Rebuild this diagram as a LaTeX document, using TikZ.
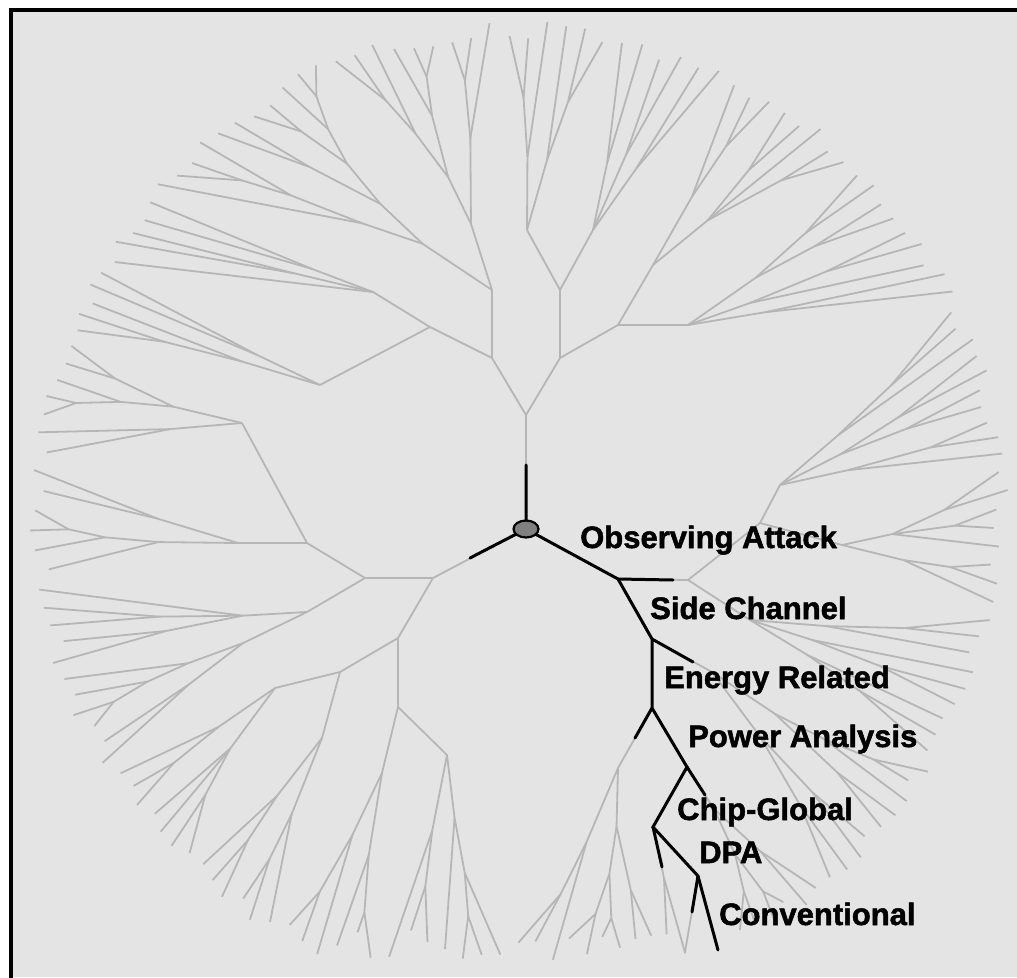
\documentclass[tikz,border=0pt]{standalone}
\usepackage{fontspec}
\setmainfont{Liberation Sans}
\newfontfamily\labfont{Liberation Sans}[BoldFeatures={FakeBold=1.6}]
\usetikzlibrary{calc,shapes.geometric}
\definecolor{treegray}{RGB}{182,182,182}
\definecolor{bggray}{RGB}{228,228,228}
\definecolor{rootgray}{RGB}{128,128,128}
\def\tgOx{526}\def\tgOy{529}
% point on the rim of the tree at a given angle, moved inward by #2
\newcommand\tgRim[2]{%
  \pgfmathsetmacro\tgAng{#1}%
  \pgfmathsetmacro\tgRad{490+18*sin(\tgAng)-8*cos(\tgAng)-(#2)}%
  \pgfmathsetmacro\tgtx{\tgOx+\tgRad*cos(\tgAng)}%
  \pgfmathsetmacro\tgty{\tgOy-\tgRad*sin(\tgAng)}%
  \pgfmathsetmacro\tgty{max(22,min(962-1.8*(#2),\tgty))}%
  \pgfmathsetmacro\tgtx{max(24,min(1008,\tgtx))}%
}
% grow a subtree from (#1,#2) over the angular wedge [#3,#4] with #5 leaves
\newcommand\tgGrow[5]{%
 \begingroup
 \edef\tggx{#1}\edef\tggy{#2}\edef\tggA{#3}\edef\tggB{#4}\edef\tggn{#5}%
 \ifnum\tggn<2
   \pgfmathsetmacro\tgjit{rnd*18}%
   \tgRim{(\tggA+\tggB)/2}{\tgjit}%
   \draw[gbr] (\tggx,\tggy) -- (\tgtx,\tgty);%
 \else
   \pgfmathsetmacro\tgper{(\tggB-\tggA)/\tggn}%
   \pgfmathtruncatemacro\tgk{ifthenelse(and(\tggn>3,rnd<0.3),3,2)}%
   \ifnum\tgk=2
     \pgfmathtruncatemacro\tgna{max(1,min(\tggn-1,round(\tggn*(0.3+0.4*rnd))))}%
     \pgfmathsetmacro\tgbm{\tggA+\tgna*\tgper}%
     \pgfmathtruncatemacro\tgnb{\tggn-\tgna}%
     \tgChild{\tggx}{\tggy}{\tggA}{\tgbm}{\tgna}%
     \tgChild{\tggx}{\tggy}{\tgbm}{\tggB}{\tgnb}%
   \else
     \pgfmathtruncatemacro\tgna{max(1,round(\tggn*(0.22+0.2*rnd)))}%
     \pgfmathtruncatemacro\tgnb{max(1,min(\tggn-\tgna-1,round((\tggn-\tgna)*(0.35+0.3*rnd))))}%
     \pgfmathtruncatemacro\tgnc{\tggn-\tgna-\tgnb}%
     \pgfmathsetmacro\tgbm{\tggA+\tgna*\tgper}%
     \pgfmathsetmacro\tgbn{\tgbm+\tgnb*\tgper}%
     \tgChild{\tggx}{\tggy}{\tggA}{\tgbm}{\tgna}%
     \tgChild{\tggx}{\tggy}{\tgbm}{\tgbn}{\tgnb}%
     \tgChild{\tggx}{\tggy}{\tgbn}{\tggB}{\tgnc}%
   \fi
 \fi
 \endgroup
}
\newcommand\tgChild[5]{%
 \begingroup
 \edef\tgcx{#1}\edef\tgcy{#2}\edef\tgcA{#3}\edef\tgcB{#4}\edef\tgcm{#5}%
 \ifnum\tgcm<2
   \tgGrow{\tgcx}{\tgcy}{\tgcA}{\tgcB}{1}%
 \else
   \tgRim{(\tgcA+\tgcB)/2}{0}%
   \pgfmathsetmacro\tgdx{\tgtx-\tgcx}%
   \pgfmathsetmacro\tgdy{\tgty-\tgcy}%
   \pgfmathsetmacro\tgdd{max(1,100*veclen(\tgdx/100,\tgdy/100))}%
   \pgfmathsetmacro\tghh{ln(\tgcm)/ln(2.2)}%
   \pgfmathsetmacro\tgL{min(75,\tgdd/(\tghh+1.2))*(0.85+0.3*rnd)}%
   \pgfmathsetmacro\tgf{\tgL/\tgdd}%
   \pgfmathsetmacro\tgqx{\tgcx+\tgf*\tgdx}%
   \pgfmathsetmacro\tgqy{\tgcy+\tgf*\tgdy}%
   \draw[gbr] (\tgcx,\tgcy) -- (\tgqx,\tgqy);%
   \tgGrow{\tgqx}{\tgqy}{\tgcA}{\tgcB}{\tgcm}%
 \fi
 \endgroup
}
\begin{document}
\begin{tikzpicture}[x=1pt,y=-1pt,
  gbr/.style={draw=treegray,line width=1.8pt},
  bbr/.style={draw=black,line width=3pt,line cap=round},
  lab/.style={font=\labfont\fontsize{31}{31}\selectfont\bfseries,inner sep=0pt,anchor=base west}]
\pgfmathsetseed{12}
\useasboundingbox (0,0) rectangle (1017,977);
\fill[white] (0,0) rectangle (1017,977);
\fill[bggray] (11,10) rectangle (1017,977);
\draw[black,line width=4pt] (11,990) -- (11,10) -- (1030,10);
% ---------- skeleton coordinates ----------
\coordinate (O) at (526,529);
% upper subtree
\coordinate (U) at (526,415);
\coordinate (UL) at (492,358);  \coordinate (UR) at (560,358);
\coordinate (UL1) at (492,290); \coordinate (UL2) at (430,327);
\coordinate (UR1) at (560,290); \coordinate (UR2) at (618,325);
\coordinate (UL2a) at (373,292); \coordinate (UL2b) at (320,385);
\coordinate (UR1a) at (527,230); \coordinate (UR1b) at (593,230);
\coordinate (UR2a) at (653,265); \coordinate (UR2b) at (688,325);
% lower-left subtree
\coordinate (L1) at (433,578);
\coordinate (L11) at (365,578); \coordinate (L12) at (398,638);
\coordinate (L11a) at (307,543); \coordinate (L11b) at (307,612);
\coordinate (L12a) at (340,672); \coordinate (L12b) at (398,707);
\coordinate (L11a1) at (242,423); \coordinate (L11a2) at (238,543);
\coordinate (L12a1) at (275,688); \coordinate (L12a2) at (322,738);
\coordinate (L12b1) at (382,773); \coordinate (L12b2) at (447,755);
% lower-right subtree (highlighted path)
\coordinate (A) at (618,579);  \coordinate (A2) at (688,580);
\coordinate (B) at (652,639);  \coordinate (B2) at (712,672);
\coordinate (C) at (652,708);  \coordinate (C2) at (618,768);
\coordinate (D) at (687,767);  \coordinate (D2) at (714,809);
\coordinate (E) at (653,827);  \coordinate (E2) at (664,878);
\coordinate (F) at (698,876);  \coordinate (F2) at (685,952);
\coordinate (G) at (718,950);
\coordinate (N1) at (760,523); \coordinate (N1a) at (780,485);
\coordinate (N1b) at (842,545); \coordinate (A2b) at (750,620);
% ---------- gray skeleton ----------
\draw[gbr] (O)--(U) (U)--(UL) (U)--(UR) (UL)--(UL1) (UL)--(UL2)
  (UR)--(UR1) (UR)--(UR2) (UL2)--(UL2a) (UL2)--(UL2b)
  (UR1)--(UR1a) (UR1)--(UR1b) (UR2)--(UR2a) (UR2)--(UR2b);
\draw[gbr] (O)--(L1) (L1)--(L11) (L1)--(L12) (L11)--(L11a) (L11)--(L11b)
  (L12)--(L12a) (L12)--(L12b) (L11a)--(L11a1) (L11a)--(L11a2)
  (L12a)--(L12a1) (L12a)--(L12a2) (L12b)--(L12b1) (L12b)--(L12b2);
\draw[gbr] (O)--(A) (A)--(A2) (A)--(B) (B)--(B2) (B)--(C) (C)--(C2)
  (C)--(D) (D)--(D2) (D)--(E) (E)--(E2) (E)--(F) (F)--(F2) (F)--(G)
  (A2)--(N1) (N1)--(N1a) (N1)--(N1b) (A2)--(A2b);
% ---------- procedural outer branches ----------
\tgGrow{492}{290}{93}{138}{20}
\tgGrow{373}{292}{138}{148}{5}
\tgGrow{320}{385}{148}{157}{5}
\tgGrow{527}{230}{80}{93}{6}
\tgGrow{593}{230}{66}{80}{6}
\tgGrow{653}{265}{48}{66}{8}
\tgGrow{688}{325}{28}{48}{9}
\tgGrow{242}{423}{157}{172}{7}
\tgGrow{238}{543}{172}{186}{6}
\tgGrow{307}{612}{186}{210}{11}
\tgGrow{275}{688}{210}{225}{7}
\tgGrow{322}{738}{225}{238}{6}
\tgGrow{382}{773}{238}{252}{6}
\tgGrow{447}{755}{252}{268}{7}
\tgGrow{618}{768}{268}{287}{9}
\tgGrow{664}{878}{287}{291}{2}
\tgGrow{714}{809}{297}{310}{6}
\tgGrow{712}{672}{310}{330}{9}
\tgGrow{750}{620}{330}{350}{9}
\tgGrow{842}{545}{350}{368}{8}
\tgGrow{780}{485}{368}{388}{10}
% ---------- highlighted path ----------
\draw[bbr] (O)--(A)--(B)--(C)--(D)--(E)--(F)--(G);
\draw[bbr] (O)--(526,465) (O)--(470,558) (A)--(673,580) (B)--(693,662)
  (C)--(635,738) (D)--(705,795) (E)--(662,867) (F)--(692,912);
\node[ellipse,draw=black,fill=rootgray,line width=2.2pt,minimum width=25pt,
  minimum height=17pt,inner sep=0pt] (root) at (O) {};
% ---------- labels ----------
\node[lab] (l1) at (580,548) {Observing Attack};
\node[lab] (l2) at (650,619) {Side Channel};
\node[lab] (l3) at (664,688) {Energy Related};
\node[lab] (l4) at (688,747) {Power Analysis};
\node[lab] (l5) at (677,820) {Chip-Global};
\node[lab] (l6) at (699,863) {DPA};
\node[lab] (l7) at (719,925) {Conventional};
\end{tikzpicture}
\end{document}
